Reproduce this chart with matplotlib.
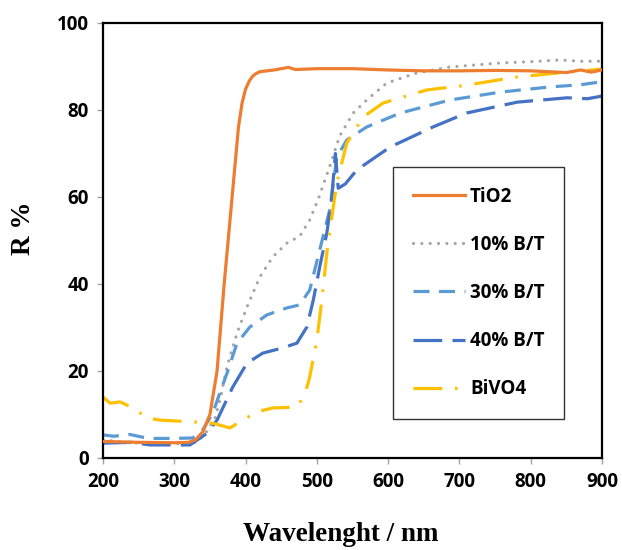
import numpy as np
import matplotlib
matplotlib.use('Agg')
import matplotlib.pyplot as plt

# reflectance spectra
wl_tio2 = [200, 250, 300, 320, 330, 340, 350, 360, 370, 380, 390, 395, 400, 405, 410, 415, 420, 440, 460, 470, 500, 550, 600, 650, 700, 750, 800, 850, 870, 885, 900]
r_tio2 = [3.8, 3.6, 3.5, 3.6, 4.2, 6.0, 10.0, 20.0, 40.0, 58.0, 76.0, 81.5, 84.8, 86.6, 87.8, 88.4, 88.8, 89.2, 89.8, 89.3, 89.5, 89.5, 89.2, 89.0, 89.0, 89.1, 89.0, 88.6, 89.2, 88.7, 89.2]

wl_10 = [200, 230, 260, 300, 320, 332, 345, 357, 365, 374, 388, 402, 420, 438, 458, 476, 490, 502, 518, 532, 551, 570, 598, 640, 687, 757, 800, 841, 870, 900]
r_10 = [4.2, 3.6, 3.3, 3.3, 3.4, 3.6, 6.0, 9.0, 14.0, 21.0, 28.7, 34.7, 41.6, 46.2, 49.4, 51.0, 54.7, 59.5, 67.0, 74.0, 79.3, 82.3, 86.2, 88.5, 89.9, 90.8, 91.1, 91.5, 91.2, 91.2]

wl_30 = [200, 215, 238, 255, 266, 300, 326, 340, 354, 364, 374, 388, 406, 430, 458, 476, 490, 504, 518, 528, 542, 570, 617, 687, 757, 827, 870, 900]
r_30 = [5.3, 5.0, 5.4, 4.8, 4.5, 4.5, 4.6, 6.5, 10.3, 15.0, 19.5, 26.4, 30.1, 32.9, 34.5, 35.2, 38.6, 47.8, 57.0, 69.2, 73.1, 76.1, 79.3, 82.3, 84.1, 85.3, 85.8, 86.5]

wl_40 = [200, 240, 266, 322, 346, 360, 382, 402, 424, 452, 472, 486, 495, 504, 514, 521, 526, 530, 540, 556, 603, 663, 710, 781, 851, 880, 900]
r_40 = [3.4, 3.6, 3.0, 3.0, 5.7, 8.7, 16.3, 21.8, 24.1, 25.3, 26.4, 30.1, 36.3, 43.9, 51.7, 60.0, 70.0, 62.0, 63.0, 66.2, 71.5, 76.1, 79.3, 81.8, 82.8, 82.6, 83.2]

wl_bv = [200, 210, 224, 242, 262, 280, 326, 354, 378, 396, 416, 438, 472, 483, 490, 500, 507, 514, 521, 528, 542, 565, 593, 654, 710, 781, 851, 900]
r_bv = [14.0, 12.6, 12.9, 11.5, 9.2, 8.7, 8.3, 8.0, 6.9, 8.7, 10.6, 11.5, 11.7, 14.5, 18.6, 27.1, 36.3, 47.1, 55.4, 63.2, 72.4, 78.4, 81.6, 84.6, 85.7, 87.6, 88.7, 89.4]

labels = ['TiO2', '10% B/T', '30% B/T', '40% B/T', 'BiVO4']

fig = plt.figure(figsize=(6.22, 5.5), dpi=100)
ax = fig.add_axes([0.1656, 0.1673, 0.8022, 0.7909])

lw = 2.3
ax.plot(wl_tio2, r_tio2, color='#ED7D31', lw=lw, label=labels[0], zorder=3)
l10, = ax.plot(wl_10, r_10, color='#A5A5A5', lw=lw, label=labels[1], dash_capstyle='round')
l10.set_dashes([0.01, 2.6])
l30, = ax.plot(wl_30, r_30, color='#5B9BD5', lw=lw, label=labels[2])
l30.set_dashes([5, 3])
l40, = ax.plot(wl_40, r_40, color='#4472C4', lw=lw, label=labels[3])
l40.set_dashes([9, 3.2])
lbv, = ax.plot(wl_bv, r_bv, color='#FFC000', lw=lw, label=labels[4])
lbv.set_dashes([9, 4, 0.8, 4])

ax.set_xlim(200, 900)
ax.set_ylim(0, 100)
ax.set_xticks(np.arange(200, 901, 100))
ax.set_yticks(np.arange(0, 101, 20))
ax.tick_params(direction='out', length=4, width=1, color='#A0A0A0', pad=6)
for t in ax.get_xticklabels() + ax.get_yticklabels():
    t.set_fontfamily('Open Sans')
    t.set_fontweight('bold')
    t.set_fontsize(13.5)
for s in ax.spines.values():
    s.set_linewidth(1.6)
    s.set_color('black')

ax.set_xlabel('Wavelenght / nm', fontfamily='Liberation Serif', fontweight='bold', fontsize=19.5)
ax.set_ylabel('R %', fontfamily='Liberation Serif', fontweight='bold', fontsize=19.5)
ax.xaxis.set_label_coords(0.477, -0.147)
ax.yaxis.set_label_coords(-0.134, 0.529)

leg = ax.legend(loc='upper left', bbox_to_anchor=(393 / 622, 1 - 167 / 550), bbox_transform=fig.transFigure,
                borderaxespad=0, frameon=True, fancybox=False, handlelength=2.8, handletextpad=0.25,
                labelspacing=1.5, borderpad=1.05, prop={'family': 'Open Sans', 'weight': 'bold', 'size': 13.5})
leg.get_frame().set_edgecolor('black')
leg.get_frame().set_linewidth(1.0)

fig.savefig('out.png', dpi=100)
